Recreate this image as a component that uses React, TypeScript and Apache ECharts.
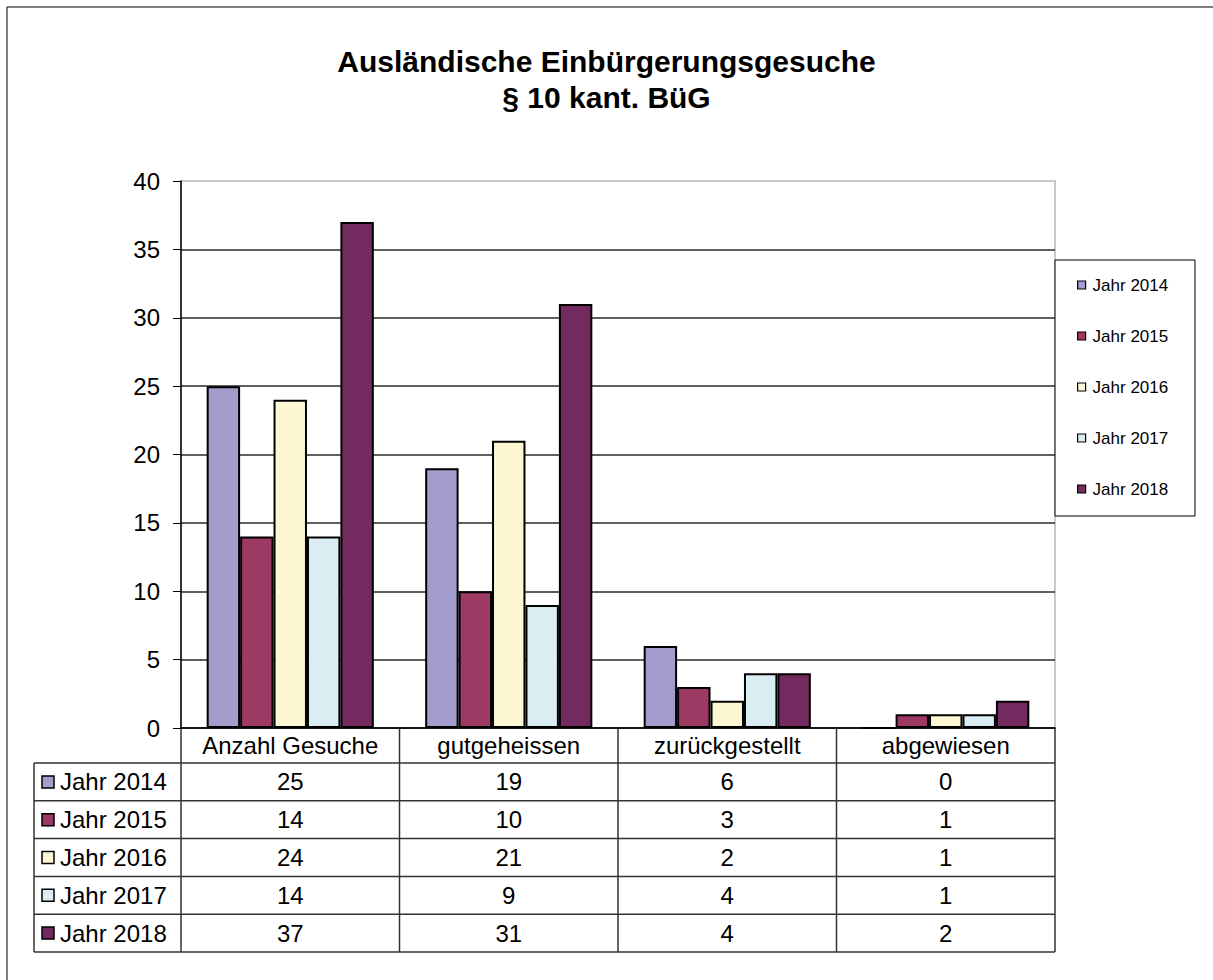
import React, { useEffect, useRef } from "react";
import * as echarts from "echarts";

const titleLines = ["Ausländische Einbürgerungsgesuche", "§ 10 kant. BüG"];
const categories = ["Anzahl Gesuche", "gutgeheissen", "zurückgestellt", "abgewiesen"];
const seriesNames = ["Jahr 2014", "Jahr 2015", "Jahr 2016", "Jahr 2017", "Jahr 2018"];
const values2014 = [25, 19, 6, 0];
const values2015 = [14, 10, 3, 1];
const values2016 = [24, 21, 2, 1];
const values2017 = [14, 9, 4, 1];
const values2018 = [37, 31, 4, 2];
const seriesValues = [values2014, values2015, values2016, values2017, values2018];
const seriesColors = ["#A39DCD", "#9C3A64", "#FEF7D3", "#DAEDF3", "#732A5E"];
const yTicks = { min: 0, max: 40, interval: 5 };

const FONT = "'Liberation Sans', Arial, Helvetica, sans-serif";
const GRID = { left: 181, top: 181, width: 874, height: 547 };
const TABLE = { left: 34, headerBottom: 763, rowH: 37.8 };

export default function App() {
  const ref = useRef<HTMLDivElement>(null);
  useEffect(() => {
    document.body.style.margin = "0";
    const chart = echarts.init(ref.current!, null, { renderer: "svg" });
    const splitColors = yTicks.max / yTicks.interval;
    const gridColors: string[] = [];
    for (let i = 0; i <= splitColors; i++) gridColors.push(i === splitColors ? "#c8c8c8" : "#2a2a2a");

    chart.setOption({
      animation: false,
      backgroundColor: "#ffffff",
      title: {
        text: titleLines.join("\n"),
        left: "center",
        top: 38,
        textStyle: { fontFamily: FONT, fontSize: 30, fontWeight: "bold", color: "#000", lineHeight: 36 },
      },
      legend: {
        orient: "vertical",
        left: 1077,
        top: 276,
        padding: 0,
        itemWidth: 8,
        itemHeight: 8,
        itemGap: 33,
        icon: "rect",
        itemStyle: { borderColor: "#000", borderWidth: 1.2 },
        textStyle: { fontFamily: FONT, fontSize: 17, color: "#000", lineHeight: 18, padding: [0, 0, 0, 2] },
        data: seriesNames,
      },
      grid: {
        left: GRID.left,
        top: GRID.top,
        width: GRID.width,
        height: GRID.height,
        show: true,
        borderColor: "#c8c8c8",
        borderWidth: 2,
        containLabel: false,
      },
      xAxis: {
        type: "category",
        data: categories,
        axisLine: { lineStyle: { color: "#000", width: 1.5 } },
        axisTick: { show: false },
        axisLabel: { fontFamily: FONT, fontSize: 24, color: "#000", margin: 5, interval: 0 },
        z: 5,
      },
      yAxis: {
        type: "value",
        min: yTicks.min,
        max: yTicks.max,
        interval: yTicks.interval,
        axisLine: { show: true, lineStyle: { color: "#000", width: 1.5 } },
        axisTick: { show: true, length: 8, lineStyle: { color: "#000" } },
        axisLabel: { fontFamily: FONT, fontSize: 24, color: "#000", margin: 21 },
        splitLine: { show: true, lineStyle: { color: gridColors, width: 1.5 } },
      },
      series: seriesNames.map((name, i) => ({
        name,
        type: "bar",
        data: seriesValues[i],
        barGap: "0%",
        barCategoryGap: "23.5%",
        itemStyle: { color: seriesColors[i], borderColor: "#000", borderWidth: 2 },
      })),
    });

    // data table below the plot, built from the same arrays and the axis positions
    const bandW = GRID.width / categories.length;
    const centers = categories.map((_, i) => chart.convertToPixel({ xAxisIndex: 0 }, i) as number);
    const right = GRID.left + GRID.width;
    const axisY = GRID.top + GRID.height;
    const bottom = TABLE.headerBottom + TABLE.rowH * seriesNames.length;
    const lineStyle = { stroke: "#333", lineWidth: 1.5 };
    const g: any[] = [];
    g.push({
      type: "rect",
      z: -10,
      shape: { x: 7, y: 7, width: 1400, height: 1200 },
      style: { fill: "none", stroke: "#000", lineWidth: 1 },
      silent: true,
    });
    g.push({
      type: "rect",
      z: 1,
      shape: { x: right, y: 260, width: 140, height: 256 },
      style: { fill: "#fff", stroke: "#000", lineWidth: 1 },
      silent: true,
    });
    for (let i = 0; i <= categories.length; i++) {
      const x = GRID.left + i * bandW;
      g.push({ type: "line", shape: { x1: x, y1: axisY, x2: x, y2: bottom }, style: lineStyle, silent: true });
    }
    g.push({ type: "line", shape: { x1: TABLE.left, y1: TABLE.headerBottom, x2: TABLE.left, y2: bottom }, style: lineStyle, silent: true });
    for (let r = 0; r <= seriesNames.length; r++) {
      const y = TABLE.headerBottom + r * TABLE.rowH;
      g.push({ type: "line", shape: { x1: TABLE.left, y1: y, x2: right, y2: y }, style: lineStyle, silent: true });
    }
    seriesNames.forEach((name, r) => {
      const cy = TABLE.headerBottom + (r + 0.5) * TABLE.rowH;
      g.push({
        type: "rect",
        shape: { x: 42, y: cy - 6, width: 12, height: 12 },
        style: { fill: seriesColors[r], stroke: "#000", lineWidth: 1.5 },
        silent: true,
      });
      g.push({
        type: "text",
        x: 60,
        y: cy,
        style: { text: name, font: `24px ${FONT}`, fill: "#000", verticalAlign: "middle", align: "left" },
        silent: true,
      });
      seriesValues[r].forEach((v, c) => {
        g.push({
          type: "text",
          x: centers[c],
          y: cy,
          style: { text: String(v), font: `24px ${FONT}`, fill: "#000", verticalAlign: "middle", align: "center" },
          silent: true,
        });
      });
    });
    chart.setOption({ graphic: g });

    return () => chart.dispose();
  }, []);
  return <div ref={ref} style={{ width: 1213, height: 980 }} />;
}
